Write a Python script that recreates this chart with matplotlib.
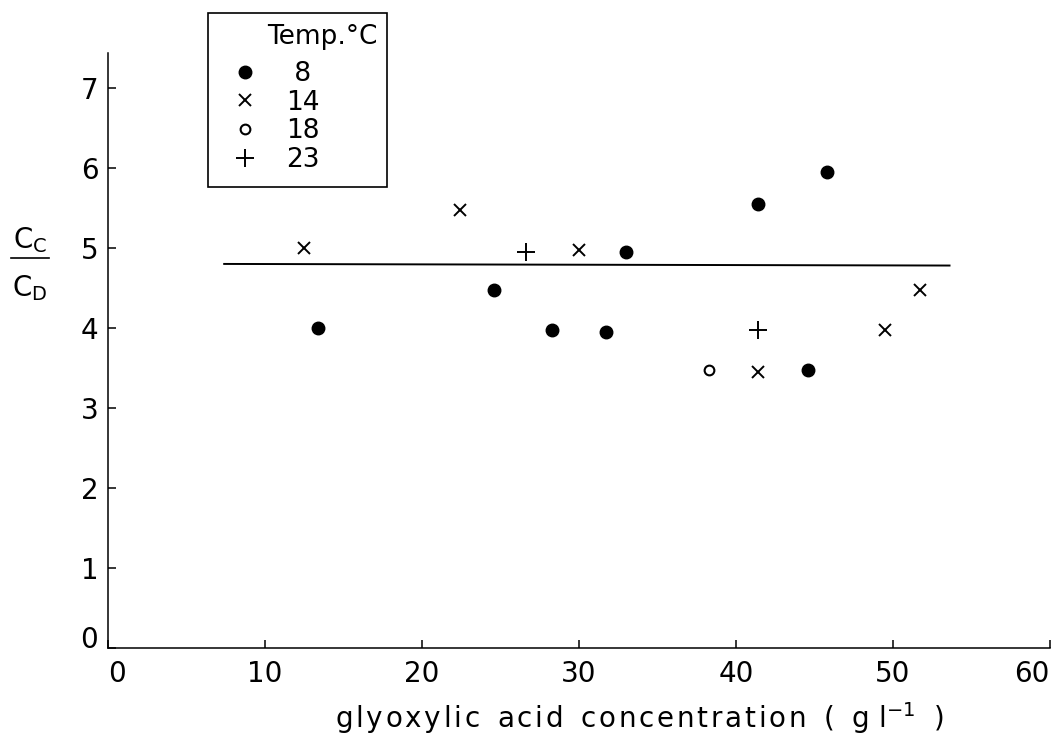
# Cc/Cd ratio against glyoxylic acid concentration at four temperatures
import matplotlib
matplotlib.use('Agg')
import matplotlib.pyplot as plt
from matplotlib.lines import Line2D
from matplotlib.patches import Rectangle

plt.rcParams['font.family'] = ['DejaVu Sans']
plt.rcParams['mathtext.fontset'] = 'dejavusans'

# data (x: g/l, y: Cc/Cd)
x_8 = [13.4, 24.6, 28.3, 31.7, 33.0, 41.4, 44.6, 45.8]
y_8 = [4.0, 4.47, 3.98, 3.95, 4.95, 5.55, 3.48, 5.95]
x_14 = [12.5, 22.4, 30.0, 41.4, 49.5, 51.7]
y_14 = [5.0, 5.47, 4.97, 3.45, 3.97, 4.47]
x_18 = [38.3]
y_18 = [3.48]
x_23 = [26.6, 41.4]
y_23 = [4.95, 3.97]

# mean ratio line
line_x = [7.4, 53.6]
line_y = [4.8, 4.78]

xticks = [0, 10, 20, 30, 40, 50, 60]
yticks = [0, 1, 2, 3, 4, 5, 6, 7]
temps = [' 8', '14', '18', '23']

W, H = 1061, 735
fig = plt.figure(figsize=(W / 100, H / 100), dpi=100)
ax = fig.add_axes([108/W, 87/H, (1050-108)/W, (648-52.7)/H])

h8, = ax.plot(x_8, y_8, 'o', color='black', markersize=9)
h14, = ax.plot(x_14, y_14, 'x', color='black', markersize=9, markeredgewidth=1.4)
h18, = ax.plot(x_18, y_18, 'o', markerfacecolor='white', markeredgecolor='black',
               markersize=7, markeredgewidth=1.5)
h23, = ax.plot(x_23, y_23, '+', color='black', markersize=13, markeredgewidth=1.4)
ax.plot(line_x, line_y, color='black', linewidth=1.4)

ax.set_xlim(0, 60)
ax.set_ylim(0, 7.44)
ax.set_xticks(xticks)
ax.set_yticks(yticks)
ax.spines['top'].set_visible(False)
ax.spines['right'].set_visible(False)
for s in ['left', 'bottom']:
    ax.spines[s].set_linewidth(1.1)
ax.tick_params(direction='in', length=6, width=1.1, labelsize=20, pad=7)
ax.tick_params(axis='x', pad=9)
xl = ax.get_xticklabels()
xl[0].set_ha('left')
xl[-1].set_ha('right')
ax.get_yticklabels()[0].set_va('baseline')

# x label, letter-spaced like the original lettering
hs = '\u200a'
words = ['glyoxylic', 'acid', 'concentration']
label = '  '.join(hs.join(w) for w in words) + '  (  g l$^{-1}$  )'
ax.set_xlabel(label, fontsize=20)
ax.xaxis.set_label_coords((639 - 108) / 942, -(718 - 648) / 595.3)
ax.xaxis.label.set_va('center')

# y label drawn as a fraction Cc / Cd
fig.text(30/W, 1 - 240/H, 'C$_\\mathregular{C}$', fontsize=20, ha='center', va='center')
fig.text(30/W, 1 - 288/H, 'C$_\\mathregular{D}$', fontsize=20, ha='center', va='center')
fig.add_artist(Line2D([11/W, 49/W], [1 - 258/H, 1 - 258/H],
                      transform=fig.transFigure, color='black', linewidth=1.2))

# legend: box, title and entries
fig.add_artist(Rectangle((208/W, 1 - 187/H), (387-208)/W, (187-13)/H,
                         transform=fig.transFigure, fill=False,
                         edgecolor='black', linewidth=1.2))
fig.text(267/W, 1 - 37/H, 'Temp.°C', fontsize=19, ha='left', va='center')
ax.legend(handles=[h8, h14, h18, h23], labels=temps, loc='upper left',
          bbox_to_anchor=(229/W, 1 - 61/H), bbox_transform=fig.transFigure,
          fontsize=19, frameon=False, borderaxespad=0, borderpad=0,
          labelspacing=0.1, handlelength=1.2, handletextpad=0.95)

fig.savefig('out.png', dpi=100)
